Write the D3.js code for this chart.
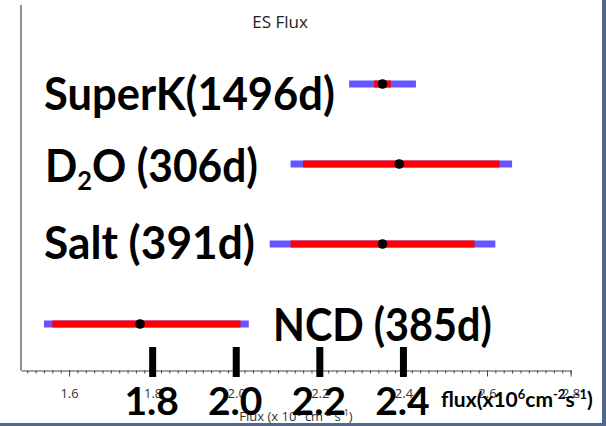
<!DOCTYPE html>
<html>
<head>
<meta charset="utf-8">
<script src="https://cdn.jsdelivr.net/npm/d3@7"></script>
<style>
  html, body { margin: 0; padding: 0; background: #fff; }
  svg { display: block; }
</style>
</head>
<body>
<svg id="chart" width="606" height="426"></svg>
<script>
// ---------- data ----------
const experiments = ["SuperK(1496d)", "D2O (306d)", "Salt (391d)", "NCD (385d)"];
const fluxValues  = [2.35, 2.39, 2.35, 1.77];
const statMinus   = [0.02, 0.23, 0.22, 0.21];
const statPlus    = [0.02, 0.24, 0.22, 0.24];
const totalMinus  = [0.08, 0.26, 0.27, 0.23];
const totalPlus   = [0.08, 0.27, 0.27, 0.26];
const tickValues  = [1.6, 1.8, 2.0, 2.2, 2.4, 2.6, 2.8];
const bigTickValues = [1.8, 2.0, 2.2, 2.4];
const chartTitle = "ES Flux";

// ---------- layout ----------
const W = 606, H = 426;
const svg = d3.select("#chart");
const x = d3.scaleLinear().domain([1.485, 2.8]).range([21, 570.6]);
const y = d3.scalePoint().domain(experiments).range([84, 324]).padding(0);
const axisY = 370.5;
const BAR_H = 7;
const BLUE = "#6655ff", RED = "#ff0000";
const SMALL_FONT = "'Open Sans', sans-serif";

// frame: left line
svg.append("line").attr("x1", 21).attr("x2", 21).attr("y1", 5).attr("y2", axisY)
  .attr("stroke", "#444").attr("stroke-width", 1.2);

// title
svg.append("text").attr("x", 280).attr("y", 28).attr("text-anchor", "middle")
  .attr("font-family", SMALL_FONT).attr("font-size", 17).attr("fill", "#222")
  .text(chartTitle);

// bottom axis: minor ticks
const minorVals = d3.range(75, 141).map(i => i * 0.02);
svg.append("g").attr("transform", `translate(0,${axisY})`)
  .call(d3.axisBottom(x).tickValues(minorVals).tickSize(3).tickSizeOuter(0).tickFormat(""))
  .call(g => g.select(".domain").attr("stroke", "#444"))
  .call(g => g.selectAll(".tick line").attr("stroke", "#444"));
// major ticks
svg.append("g").attr("transform", `translate(0,${axisY})`)
  .attr("font-size", 13)
  .call(d3.axisBottom(x).tickValues(tickValues).tickSize(6).tickSizeOuter(0).tickPadding(12)
        .tickFormat(d3.format(".1f")))
  .call(g => g.attr("font-size", 13).attr("font-family", SMALL_FONT))
  .call(g => g.select(".domain").remove())
  .call(g => g.selectAll(".tick line").attr("stroke", "#444"))
  .call(g => g.selectAll(".tick text").attr("fill", "#333"));

// axis title
const at = svg.append("text").attr("x", 296).attr("y", 421).attr("text-anchor", "middle")
  .attr("font-family", SMALL_FONT).attr("font-size", 13).attr("fill", "#333");
at.append("tspan").text("Flux (x 10");
at.append("tspan").attr("font-size", 9).attr("dy", -5).text("6");
at.append("tspan").attr("dy", 5).text(" cm");
at.append("tspan").attr("font-size", 9).attr("dy", -5).text("-2");
at.append("tspan").attr("dy", 5).text(" s");
at.append("tspan").attr("font-size", 9).attr("dy", -5).text("-1");
at.append("tspan").attr("dy", 5).text(")");

// error bars
const rows = experiments.map((e, i) => ({
  name: e, v: fluxValues[i],
  sLo: fluxValues[i] - statMinus[i], sHi: fluxValues[i] + statPlus[i],
  tLo: fluxValues[i] - totalMinus[i], tHi: fluxValues[i] + totalPlus[i]
}));
const gBars = svg.append("g");
gBars.selectAll("rect.tot").data(rows).join("rect").attr("class", "tot")
  .attr("x", d => x(d.tLo)).attr("width", d => x(d.tHi) - x(d.tLo))
  .attr("y", d => y(d.name) - BAR_H / 2).attr("height", BAR_H).attr("fill", BLUE);
gBars.selectAll("rect.stat").data(rows).join("rect").attr("class", "stat")
  .attr("x", d => x(d.sLo)).attr("width", d => x(d.sHi) - x(d.sLo))
  .attr("y", d => y(d.name) - BAR_H / 2).attr("height", BAR_H).attr("fill", RED);
gBars.selectAll("circle").data(rows).join("circle")
  .attr("cx", d => x(d.v)).attr("cy", d => y(d.name)).attr("r", 4.8).attr("fill", "#000");

// big overlay labels
const BIG_FONT = "Lato, 'Open Sans', sans-serif";
const labelLayout = [
  { x: 44, dy: 26, w: 291 },
  { x: 45, dy: 18, w: 213 },
  { x: 44, dy: 15, w: 211 },
  { x: 273, dy: 17, w: 219 }
];
experiments.forEach((name, i) => {
  const L = labelLayout[i];
  const outer = svg.append("g").attr("transform", `translate(${L.x},${y(name) + L.dy})`);
  const inner = outer.append("g");
  const t = inner.append("text").attr("x", 0).attr("y", 0)
    .attr("font-family", BIG_FONT).attr("font-weight", "bold").attr("font-size", 45).attr("fill", "#000");
  if (name.startsWith("D2O")) {
    t.append("tspan").text("D");
    t.append("tspan").attr("font-size", 27).attr("dy", 8).text("2");
    t.append("tspan").attr("dy", -8).text("O" + name.slice(3));
  } else {
    t.text(name);
  }
  const bb = t.node().getBBox();
  const sx = L.w / (bb.width || 1);
  inner.attr("transform", `translate(${-bb.x * sx},0) scale(${sx},1)`);
});

// big ticks and labels
svg.selectAll("rect.bigtick").data(bigTickValues).join("rect").attr("class", "bigtick")
  .attr("x", d => x(d) - 3.5).attr("width", 7).attr("y", 347).attr("height", 30).attr("fill", "#000");
svg.selectAll("text.bigtick").data(bigTickValues).join("text").attr("class", "bigtick")
  .attr("x", d => x(d) - 1).attr("y", 415).attr("text-anchor", "middle")
  .attr("font-family", BIG_FONT).attr("font-weight", "bold").attr("font-size", 39).attr("fill", "#000")
  .text(d => d3.format(".1f")(d));

// big unit label
const ug = svg.append("g").attr("transform", "translate(441,407)");
const ut = ug.append("text").attr("font-family", BIG_FONT).attr("font-weight", "bold")
  .attr("font-size", 21).attr("fill", "#000");
ut.append("tspan").text("flux(x10");
ut.append("tspan").attr("font-size", 13).attr("dy", -8).text("6");
ut.append("tspan").attr("dy", 8).text("cm");
ut.append("tspan").attr("font-size", 13).attr("dy", -8).text("-2");
ut.append("tspan").attr("dy", 8).text("s");
ut.append("tspan").attr("font-size", 13).attr("dy", -8).text("-1");
ut.append("tspan").attr("dy", 8).text(")");

// slide border bands
svg.append("rect").attr("x", 602).attr("y", 0).attr("width", 4).attr("height", H).attr("fill", "#52698c");
svg.append("rect").attr("x", 0).attr("y", 423).attr("width", W).attr("height", 3).attr("fill", "#52698c");
</script>
</body>
</html>
